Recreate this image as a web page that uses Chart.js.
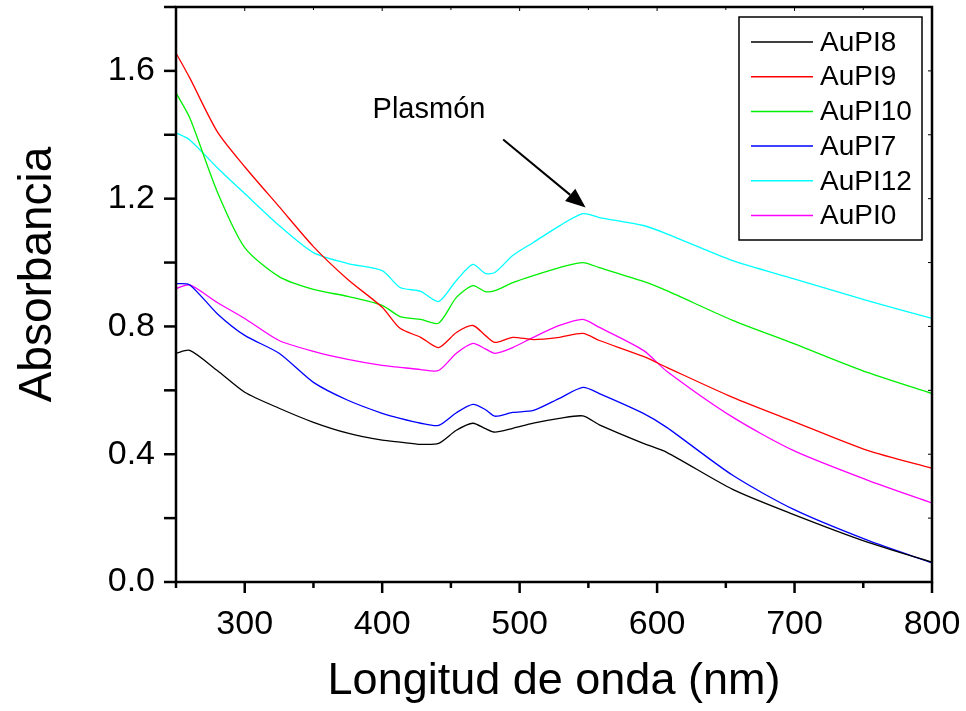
<!DOCTYPE html>
<html>
<head>
<meta charset="utf-8">
<title>Absorbancia AuPI</title>
<script src="https://cdn.jsdelivr.net/npm/chart.js@4.4.1/dist/chart.umd.min.js"></script>
<style>
  html, body { margin: 0; padding: 0; background: #fff; }
  #wrap { width: 966px; height: 711px; }
</style>
</head>
<body>
<div id="wrap"><canvas id="abs-chart" width="966" height="711"></canvas></div>
<script>
// wavelengths (nm) sampled along all curves
const wavelengths = [250, 260, 280, 300, 325, 350, 375, 400, 413, 428, 441, 454, 466, 475, 482, 495, 510, 529, 546, 558, 590, 607, 655, 699, 753, 800];

// absorbance
const auPI8  = [0.716, 0.725, 0.662, 0.594, 0.544, 0.500, 0.466, 0.444, 0.438, 0.431, 0.434, 0.475, 0.497, 0.480, 0.469, 0.481, 0.497, 0.512, 0.520, 0.492, 0.434, 0.406, 0.290, 0.212, 0.125, 0.062];
const auPI9  = [1.656, 1.578, 1.410, 1.300, 1.175, 1.050, 0.947, 0.860, 0.794, 0.766, 0.734, 0.781, 0.803, 0.772, 0.750, 0.766, 0.759, 0.766, 0.778, 0.756, 0.706, 0.672, 0.578, 0.503, 0.412, 0.356];
const auPI10 = [1.531, 1.453, 1.222, 1.047, 0.956, 0.916, 0.894, 0.866, 0.831, 0.822, 0.810, 0.891, 0.928, 0.909, 0.912, 0.937, 0.959, 0.984, 1.000, 0.984, 0.941, 0.912, 0.819, 0.747, 0.656, 0.590];
const auPI7  = [0.934, 0.930, 0.840, 0.772, 0.716, 0.625, 0.569, 0.528, 0.512, 0.497, 0.490, 0.530, 0.556, 0.540, 0.519, 0.531, 0.537, 0.575, 0.609, 0.590, 0.528, 0.484, 0.334, 0.228, 0.131, 0.060];
const auPI12 = [1.406, 1.384, 1.297, 1.216, 1.116, 1.031, 0.997, 0.975, 0.922, 0.910, 0.878, 0.944, 0.994, 0.966, 0.969, 1.022, 1.063, 1.115, 1.153, 1.141, 1.116, 1.090, 1.006, 0.950, 0.881, 0.825];
const auPI0  = [0.919, 0.930, 0.875, 0.825, 0.756, 0.722, 0.697, 0.678, 0.672, 0.665, 0.662, 0.716, 0.747, 0.730, 0.716, 0.734, 0.766, 0.803, 0.822, 0.797, 0.725, 0.660, 0.516, 0.412, 0.319, 0.247];

const seriesNames  = ['AuPI8', 'AuPI9', 'AuPI10', 'AuPI7', 'AuPI12', 'AuPI0'];
const seriesValues = [auPI8, auPI9, auPI10, auPI7, auPI12, auPI0];
const seriesColors = ['#000000', '#ff0000', '#00f000', '#0000ff', '#00ffff', '#ff00ff'];

// annotation: label and arrow pointing at the plasmon band (data coords)
const annotationText = 'Plasmón';
const annotationAt = [393, 1.478];
const arrowFrom = [488, 1.385];
const arrowTo = [548, 1.172];

const FONT = '"Liberation Sans", Arial, Helvetica, sans-serif';
const yTitle = 'Absorbancia';

const datasets = seriesNames.map((name, i) => ({
    label: name,
    data: wavelengths.map((w, j) => ({ x: w, y: seriesValues[i][j] })),
    borderColor: seriesColors[i],
    backgroundColor: seriesColors[i],
    borderWidth: 1.3,
    pointRadius: 0,
    tension: 0.25,
    fill: false
}));

// frame, tick marks, legend box, y title and the arrow annotation
const decorPlugin = {
    id: 'decor',
    afterDraw(chart) {
        const { ctx, chartArea: a, scales: { x, y } } = chart;
        ctx.save();
        ctx.strokeStyle = '#000';
        ctx.lineCap = 'butt';

        // axis frame
        ctx.lineWidth = 2.5;
        ctx.strokeRect(a.left, a.top, a.right - a.left, a.bottom - a.top);

        // x ticks: outward at bottom, small inward at top
        x.ticks.forEach(t => {
            const px = x.getPixelForValue(t.value);
            const major = t.value % 100 === 0;
            ctx.lineWidth = 2.5;
            ctx.beginPath();
            ctx.moveTo(px, a.bottom);
            ctx.lineTo(px, a.bottom + (major ? 11 : 6));
            ctx.stroke();
            ctx.lineWidth = 1;
            ctx.beginPath();
            ctx.moveTo(px, a.top);
            ctx.lineTo(px, a.top + (major ? 4 : 3));
            ctx.stroke();
        });

        // y ticks: outward at left, small inward at right
        y.ticks.forEach(t => {
            const py = y.getPixelForValue(t.value);
            ctx.lineWidth = 2.5;
            ctx.beginPath();
            ctx.moveTo(a.left, py);
            ctx.lineTo(a.left - 12, py);
            ctx.stroke();
            ctx.lineWidth = 1;
            ctx.beginPath();
            ctx.moveTo(a.right, py);
            ctx.lineTo(a.right - 4, py);
            ctx.stroke();
        });

        // y axis title (sits a bit above the axis centre in the original)
        ctx.save();
        ctx.translate(38, (a.top + a.bottom) / 2 - 20);
        ctx.rotate(-Math.PI / 2);
        ctx.fillStyle = '#000';
        ctx.font = '46px ' + FONT;
        ctx.textAlign = 'center';
        ctx.textBaseline = 'middle';
        ctx.fillText(yTitle, 0, 0);
        ctx.restore();

        // legend
        const bw = 183, bh = 223;
        const bx = a.right - 10 - bw, by = a.top + 10;
        ctx.lineWidth = 1.5;
        ctx.strokeRect(bx, by, bw, bh);
        ctx.font = '28px ' + FONT;
        ctx.textBaseline = 'middle';
        ctx.textAlign = 'left';
        chart.data.datasets.forEach((ds, i) => {
            const ry = by + 25 + i * 34.7;
            ctx.strokeStyle = ds.borderColor;
            ctx.lineWidth = 1.5;
            ctx.beginPath();
            ctx.moveTo(bx + 12, ry);
            ctx.lineTo(bx + 74, ry);
            ctx.stroke();
            ctx.fillStyle = '#000';
            ctx.fillText(ds.label, bx + 81, ry + 1);
        });

        // annotation text
        ctx.fillStyle = '#000';
        ctx.font = '29px ' + FONT;
        ctx.textBaseline = 'middle';
        ctx.fillText(annotationText, x.getPixelForValue(annotationAt[0]), y.getPixelForValue(annotationAt[1]));

        // arrow
        const x0 = x.getPixelForValue(arrowFrom[0]), y0 = y.getPixelForValue(arrowFrom[1]);
        const x1 = x.getPixelForValue(arrowTo[0]), y1 = y.getPixelForValue(arrowTo[1]);
        const ang = Math.atan2(y1 - y0, x1 - x0);
        const headLen = 20, headW = 8;
        const bxh = x1 - headLen * Math.cos(ang), byh = y1 - headLen * Math.sin(ang);
        ctx.strokeStyle = '#000';
        ctx.lineWidth = 2;
        ctx.beginPath();
        ctx.moveTo(x0, y0);
        ctx.lineTo(bxh, byh);
        ctx.stroke();
        ctx.beginPath();
        ctx.moveTo(x1, y1);
        ctx.lineTo(bxh + headW * Math.sin(ang), byh - headW * Math.cos(ang));
        ctx.lineTo(bxh - headW * Math.sin(ang), byh + headW * Math.cos(ang));
        ctx.closePath();
        ctx.fill();

        ctx.restore();
    }
};

const ctx = document.getElementById('abs-chart').getContext('2d');
new Chart(ctx, {
    type: 'line',
    data: { datasets },
    options: {
        responsive: false,
        animation: false,
        layout: { padding: { top: 7, right: 34, left: 0, bottom: 0 } },
        plugins: {
            legend: { display: false },
            tooltip: { enabled: false }
        },
        scales: {
            x: {
                type: 'linear',
                min: 250,
                max: 800,
                grid: { display: false, drawTicks: false },
                border: { display: false },
                ticks: {
                    stepSize: 50,
                    autoSkip: false,
                    maxRotation: 0,
                    padding: 22,
                    color: '#000',
                    font: { family: FONT, size: 34 },
                    callback: (v) => (v % 100 === 0 ? String(v) : '')
                },
                title: {
                    display: true,
                    text: 'Longitud de onda (nm)',
                    color: '#000',
                    font: { family: FONT, size: 45 },
                    padding: { top: 0, bottom: 2 }
                },
                afterFit: (scale) => {
                    scale.height = 129;
                    scale.paddingLeft = 0;
                    scale.paddingRight = 0;
                }
            },
            y: {
                min: 0,
                max: 1.8,
                grid: { display: false, drawTicks: false },
                border: { display: false },
                ticks: {
                    stepSize: 0.2,
                    autoSkip: false,
                    padding: 21,
                    color: '#000',
                    font: { family: FONT, size: 34 },
                    callback: (v) => (Math.round(v * 10) % 4 === 0 ? v.toFixed(1) : '')
                },
                afterFit: (scale) => {
                    scale.width = 176;
                    scale.paddingTop = 0;
                    scale.paddingBottom = 0;
                }
            }
        }
    },
    plugins: [decorPlugin]
});
</script>
</body>
</html>
